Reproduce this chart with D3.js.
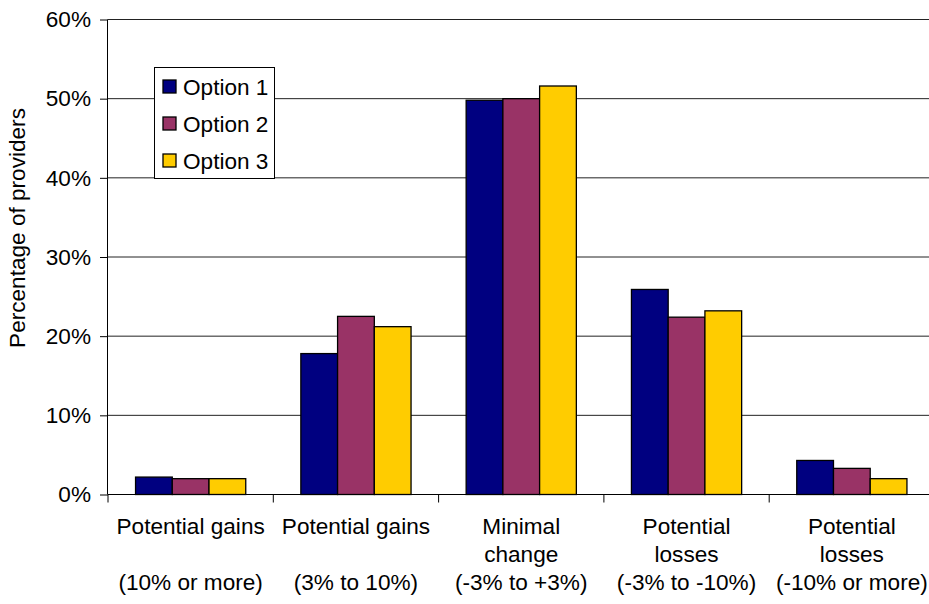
<!DOCTYPE html>
<html>
<head>
<meta charset="utf-8">
<script src="https://cdn.jsdelivr.net/npm/d3@7"></script>
<style>
  html, body { margin: 0; padding: 0; background: #fff; }
  svg { display: block; }
  text { font-family: Arial, "Liberation Sans", sans-serif; fill: #000; }
</style>
</head>
<body>
<svg id="chart" width="929" height="604"></svg>
<script>
// Share of providers by projected payment change, per option (percent)
const categories = [
  ["Potential gains", "", "(10% or more)"],
  ["Potential gains", "", "(3% to 10%)"],
  ["Minimal", "change", "(-3% to +3%)"],
  ["Potential", "losses", "(-3% to -10%)"],
  ["Potential", "losses", "(-10% or more)"]
];
const seriesNames = ["Option 1", "Option 2", "Option 3"];
const option1 = [2.2, 17.8, 49.8, 25.9, 4.3];
const option2 = [2.0, 22.5, 50.0, 22.4, 3.3];
const option3 = [2.0, 21.2, 51.6, 23.2, 2.0];
const yTicks = [0, 10, 20, 30, 40, 50, 60];
const colors = ["#000080", "#993366", "#FFCC00"];

const seriesValues = [option1, option2, option3];

const svg = d3.select("#chart");
const plotLeft = 108, plotRight = 934.5, plotTop = 19.5, plotBottom = 494.5;
const fontSize = 22.6;

const x = d3.scaleBand()
  .domain(d3.range(categories.length))
  .range([plotLeft, plotRight])
  .paddingInner(0).paddingOuter(0);

// bars take 3 slots, gap between groups is 1.5 bar widths
const groupWidth = x.bandwidth() * 3 / 4.5;
const gapHalf = (x.bandwidth() - groupWidth) / 2;
const xs = d3.scaleBand()
  .domain(d3.range(seriesNames.length))
  .range([gapHalf, gapHalf + groupWidth])
  .padding(0);

const y = d3.scaleLinear().domain([0, 60]).range([plotBottom, plotTop]);

// horizontal gridlines
svg.append("g")
  .selectAll("line")
  .data(yTicks.filter(t => t > 0))
  .join("line")
  .attr("x1", plotLeft).attr("x2", 929)
  .attr("y1", d => y(d)).attr("y2", d => y(d))
  .attr("stroke", "#222").attr("stroke-width", 1);

// bars
const groups = svg.append("g")
  .selectAll("g")
  .data(categories.map((c, i) => i))
  .join("g")
  .attr("transform", i => `translate(${x(i)},0)`);

groups.selectAll("rect")
  .data(i => seriesValues.map((vals, s) => ({ s, v: vals[i] })))
  .join("rect")
  .attr("x", d => xs(d.s))
  .attr("width", xs.bandwidth())
  .attr("y", d => y(d.v))
  .attr("height", d => y(0) - y(d.v))
  .attr("fill", d => colors[d.s])
  .attr("stroke", "#000")
  .attr("stroke-width", 1.3);

// y axis
const yAxis = d3.axisLeft(y)
  .tickValues(yTicks)
  .tickFormat(d => d + "%")
  .tickSize(8)
  .tickPadding(9);
const yg = svg.append("g")
  .attr("transform", `translate(${plotLeft},0)`)
  .call(yAxis);
yg.select(".domain").attr("stroke", "#000").attr("d", `M-0.5,${plotTop}V${plotBottom}`);
yg.selectAll(".tick line").attr("stroke", "#000");
yg.selectAll(".tick text")
  .attr("font-size", fontSize)
  .attr("font-family", "Arial, 'Liberation Sans', sans-serif")
  .attr("fill", "#000");

// x axis baseline and category boundary ticks
const xg = svg.append("g");
xg.append("line")
  .attr("x1", plotLeft).attr("x2", 929)
  .attr("y1", plotBottom).attr("y2", plotBottom)
  .attr("stroke", "#000");
xg.selectAll("line.tick")
  .data(d3.range(categories.length + 1))
  .join("line")
  .attr("class", "tick")
  .attr("x1", i => (i < categories.length ? x(i) : plotRight))
  .attr("x2", i => (i < categories.length ? x(i) : plotRight))
  .attr("y1", plotBottom).attr("y2", plotBottom + 8)
  .attr("stroke", "#000");

// category labels
const labelRows = [534, 562, 590];
xg.selectAll("text.cat")
  .data(categories.flatMap((lines, i) => lines.map((t, r) => ({ i, r, t })).filter(d => d.t)))
  .join("text")
  .attr("class", "cat")
  .attr("x", d => x(d.i) + x.bandwidth() / 2)
  .attr("y", d => labelRows[d.r])
  .attr("text-anchor", "middle")
  .attr("font-size", fontSize)
  .text(d => d.t);

// y axis title
svg.append("text")
  .attr("transform", "translate(25,228) rotate(-90)")
  .attr("text-anchor", "middle")
  .attr("font-size", fontSize)
  .text("Percentage of providers");

// legend
const legend = svg.append("g").attr("transform", "translate(154,67)");
legend.append("rect")
  .attr("x", 0.5).attr("y", 0.5)
  .attr("width", 120).attr("height", 111)
  .attr("fill", "#fff").attr("stroke", "#000");
const items = legend.selectAll("g.item")
  .data(seriesNames)
  .join("g")
  .attr("class", "item")
  .attr("transform", (d, i) => `translate(0,${19.5 + i * 37})`);
items.append("rect")
  .attr("x", 9).attr("y", -6.5)
  .attr("width", 13).attr("height", 13)
  .attr("fill", (d, i) => colors[i])
  .attr("stroke", "#000").attr("stroke-width", 1.3);
items.append("text")
  .attr("x", 29).attr("y", 8)
  .attr("font-size", fontSize)
  .text(d => d);
</script>
</body>
</html>
